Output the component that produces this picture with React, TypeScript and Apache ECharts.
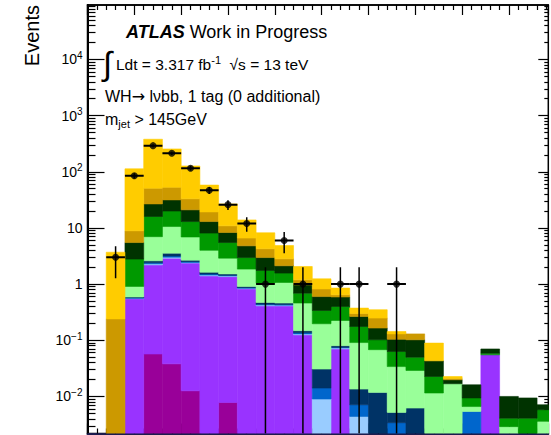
import { useEffect, useRef } from 'react';
import * as echarts from 'echarts';

// Histogram binning (GeV)
const BIN_WIDTH = 20;
const binLow = [0, 20, 40, 60, 80, 100, 120, 140, 160, 180, 200, 220, 240, 260, 280, 300, 320, 340, 360, 380, 400, 420, 440, 460, 480];
const X_MAX = 492;

// Vertical range in log10(Events)
const Y_MIN = -2.66;
const Y_MAX = 4.97;

// Observed events per bin
const observed = [0, 3, 85, 292, 214, 116, 47, 26, 12, 1, 6, 1, 0, 1, 1, 0, 1, 0, 0, 0, 0, 0, 0, 0, 0];

// Background predictions per bin, listed from the bottom of the stack upwards
const diboson = [0, 0, 0, 0.057, 0.038, 0.0126, 0, 0.0078, 0, 0, 0, 0, 0, 0, 0, 0, 0, 0, 0, 0, 0, 0, 0, 0, 0];
const multijet = [0, 0, 0.55, 2.14, 2.86, 2.36, 1.4, 1.35, 0.825, 0.41, 0.41, 0.125, 0, 0.07, 0, 0, 0, 0, 0, 0, 0, 0.055, 0, 0, 0];
const zLight = [0, 0, 0.01, 0.1, 0.12, 0.06, 0.05, 0.04, 0.02, 0.015, 0.012, 0.005, 0.009, 0.003, 0.0044, 0, 0, 0, 0, 0, 0, 0, 0, 0, 0];
const zCharm = [0, 0, 0.01, 0.1, 0.14, 0.08, 0.06, 0.04, 0.02, 0.015, 0.013, 0.006, 0.0051, 0.002, 0.0027, 0, 0.0034, 0, 0, 0, 0.0054, 0, 0, 0, 0];
const zBottom = [0, 0, 0.02, 0.2, 0.4, 0.16, 0.12, 0.08, 0.041, 0.03, 0.025, 0.012, 0.0166, 0.005, 0.0064, 0.0118, 0.0018, 0.0062, 0, 0, 0, 0, 0, 0, 0];
const wLight = [0, 0, 0.32, 4.4, 7.04, 4.23, 2.37, 1.38, 0.944, 0.57, 0.61, 0.312, 0.166, 0.145, 0.0775, 0.0562, 0.0288, 0.0228, 0.0115, 0.0168, 0.0012, 0, 0.0029, 0, 0.0036];
const wCharm = [0, 0, 1.88, 9, 9.4, 6.1, 4.1, 2.6, 1.12, 0.71, 0.5, 0.23, 0.143, 0.175, 0.085, 0.034, 0.029, 0.021, 0.0112, 0, 0.0028, 0.004, 0.0012, 0.0041, 0.0022];
const wBottom = [0, 0, 2.71, 10.8, 11.6, 8, 4.9, 2.8, 1.83, 1.22, 0.55, 0.28, 0.26, 0.19, 0.089, 0.063, 0.041, 0.052, 0.0203, 0.003, 0.0067, 0.011, 0.0059, 0.0053, 0.0013];
const singleTop = [0, 0.24, 3.4, 24.2, 21.4, 12, 6.3, 2.6, 1.8, 1.28, 0.7, 0.22, 0.22, 0.055, 0.035, 0.083, 0.026, 0.028, 0, 0.001, 0, 0, 0, 0, 0];
const ttbar = [0, 3.46, 104, 329, 202, 94, 38.7, 15.9, 7.3, 3.95, 2.04, 0.87, 0.42, 0.205, 0.074, 0.102, 0.013, 0, 0.046, 0.0018, 0, 0, 0, 0, 0];

const stackOrder = [
  { name: 'diboson', values: diboson, color: '#990099' },
  { name: 'multijet', values: multijet, color: '#9933ff' },
  { name: 'Z+l', values: zLight, color: '#99ccff' },
  { name: 'Z+c', values: zCharm, color: '#0066cc' },
  { name: 'Z+b', values: zBottom, color: '#003366' },
  { name: 'W+l', values: wLight, color: '#99ff99' },
  { name: 'W+c', values: wCharm, color: '#009900' },
  { name: 'W+b', values: wBottom, color: '#003300' },
  { name: 'single top', values: singleTop, color: '#cc9900' },
  { name: 'ttbar', values: ttbar, color: '#ffcc00' },
];

// Axis decorations (log10 positions)
const decades = [-3, -2, -1, 0, 1, 2, 3, 4];
const minorMultipliers = [2, 3, 4, 5, 6, 7, 8, 9];

const FONT = '"Liberation Sans", Arial, Helvetica, sans-serif';

const majorLogTicks = decades.filter((d) => d >= Y_MIN && d <= Y_MAX);
const minorLogTicks: number[] = [];
decades.forEach((d) => {
  minorMultipliers.forEach((m) => {
    const v = d + Math.log10(m);
    if (v > Y_MIN && v < Y_MAX) minorLogTicks.push(v);
  });
});

const toLog = (v: number) => (v > 0 ? Math.max(Math.log10(v), Y_MIN) : Y_MIN);

function buildStackSeries() {
  const cumulative = binLow.map(() => 0);
  return stackOrder.map((comp, ci) => {
    const data: number[][] = [];
    binLow.forEach((lo, i) => {
      const below = cumulative[i];
      cumulative[i] += comp.values[i];
      const top = cumulative[i];
      if (comp.values[i] > 0 && top > Math.pow(10, Y_MIN)) {
        data.push([lo, lo + BIN_WIDTH, toLog(below), Math.min(Math.log10(top), Y_MAX)]);
      }
    });
    return {
      type: 'custom',
      name: comp.name,
      data,
      encode: { x: [0, 1], y: [2, 3] },
      clip: true,
      z: 2 + ci * 0.01,
      renderItem: (_params: any, api: any) => {
        const p0 = api.coord([api.value(0), api.value(2)]);
        const p1 = api.coord([api.value(1), api.value(3)]);
        return {
          type: 'rect',
          shape: { x: p0[0], y: p1[1], width: p1[0] - p0[0], height: p0[1] - p1[1] },
          style: { fill: comp.color, stroke: comp.color, lineWidth: 0.6 },
        };
      },
    };
  });
}

const dataPoints = binLow
  .map((lo, i) => [lo + BIN_WIDTH / 2, observed[i]])
  .filter((d) => d[1] > 0);

function supLabel(v: number) {
  const d = Math.round(v);
  if (d === 0) return '{b|1}';
  if (d === 1) return '{b|10}';
  return `{b|10}{s|${d < 0 ? '\u2212' + -d : d}}`;
}

const tickStyle = { color: '#000', width: 1.2 };

export default function App() {
  const ref = useRef<HTMLDivElement>(null);

  useEffect(() => {
    if (!ref.current) return;
    const chart = echarts.init(ref.current, null, { renderer: 'svg' });

    const xBase = {
      type: 'value',
      min: 0,
      max: X_MAX,
      interval: 50,
      splitLine: { show: false },
      axisLabel: { show: false },
      minorSplitLine: { show: false },
    };

    const yBase = {
      type: 'value',
      min: Y_MIN,
      max: Y_MAX,
      offset: 0,
      splitLine: { show: false },
      axisLine: { show: false, onZero: false },
      axisLabel: { show: false },
    };

    chart.setOption({
      animation: false,
      backgroundColor: '#ffffff',
      grid: {
        left: 87.5,
        right: 2.7,
        top: 5,
        bottom: 1.5,
        show: true,
        borderColor: '#000',
        borderWidth: 1.5,
        backgroundColor: 'transparent',
        containLabel: false,
        outerBoundsMode: 'none',
      },
      xAxis: [
        {
          ...xBase,
          position: 'bottom',
          axisLine: { show: true, onZero: false, lineStyle: { color: '#1c1c4e', width: 2 } },
          axisTick: { show: true, inside: true, length: 10, lineStyle: tickStyle },
          minorTick: { show: true, splitNumber: 5, length: 5, lineStyle: tickStyle },
        },
        {
          ...xBase,
          position: 'top',
          axisLine: { show: true, onZero: false, lineStyle: { color: '#000', width: 1.5 } },
          axisTick: { show: true, inside: true, length: 10, lineStyle: tickStyle },
          minorTick: { show: true, splitNumber: 5, length: 5, lineStyle: tickStyle },
        },
      ],
      yAxis: [
        {
          ...yBase,
          position: 'left',
          axisLine: { show: true, onZero: false, lineStyle: { color: '#000', width: 2 } },
          axisTick: { show: true, inside: true, length: 17, customValues: majorLogTicks, lineStyle: tickStyle },
          axisLabel: {
            show: true,
            customValues: majorLogTicks,
            margin: 5,
            formatter: (v: number) => supLabel(v),
            rich: {
              b: { fontSize: 14, fontFamily: FONT, color: '#000' },
              s: { fontSize: 10, fontFamily: FONT, color: '#000', padding: [0, 0, 8, 0] },
            },
          },
        },
        {
          ...yBase,
          position: 'left',
          axisTick: { show: true, inside: true, length: 8, customValues: minorLogTicks, lineStyle: tickStyle },
        },
        {
          ...yBase,
          position: 'right',
          axisTick: { show: true, inside: true, length: 10, customValues: majorLogTicks, lineStyle: tickStyle },
        },
        {
          ...yBase,
          position: 'right',
          axisTick: { show: true, inside: true, length: 4, customValues: minorLogTicks, lineStyle: tickStyle },
        },
      ],
      series: [
        ...buildStackSeries(),
        {
          type: 'custom',
          name: 'data errors',
          data: binLow.map((lo, i) => [lo, lo + BIN_WIDTH, observed[i]]).filter((d) => d[2] > 0),
          encode: { x: [0, 1], y: 2 },
          clip: true,
          z: 10,
          renderItem: (_params: any, api: any) => {
            const lo = api.value(0);
            const hi = api.value(1);
            const n = api.value(2);
            const err = Math.sqrt(n);
            const mid = (lo + hi) / 2;
            const yc = Math.log10(n);
            const left = api.coord([lo, yc]);
            const right = api.coord([hi, yc]);
            const up = api.coord([mid, Math.min(Math.log10(n + err), Y_MAX)]);
            const down = api.coord([mid, toLog(n - err)]);
            return {
              type: 'group',
              children: [
                { type: 'line', shape: { x1: left[0], y1: left[1], x2: right[0], y2: right[1] }, style: { stroke: '#000', lineWidth: 2 } },
                { type: 'line', shape: { x1: up[0], y1: up[1], x2: down[0], y2: down[1] }, style: { stroke: '#000', lineWidth: 1.5 } },
              ],
            };
          },
        },
        {
          type: 'scatter',
          name: 'data',
          data: dataPoints.map((d) => [d[0], Math.log10(d[1])]),
          symbol: 'circle',
          symbolSize: 7,
          itemStyle: { color: '#000' },
          z: 11,
          clip: true,
        },
      ],
      graphic: [
        {
          type: 'text',
          x: 32,
          y: 5,
          rotation: Math.PI / 2,
          style: { text: 'Events', fontSize: 20, fontFamily: FONT, fill: '#000', align: 'right', verticalAlign: 'middle' },
        },
        {
          type: 'text',
          x: 126,
          y: 32,
          style: {
            text: '{a|ATLAS} {w|Work in Progress}',
            fontSize: 18,
            fontFamily: FONT,
            verticalAlign: 'middle',
            rich: {
              a: { fontSize: 18, fontFamily: FONT, fontWeight: 'bold', fontStyle: 'italic', fill: '#000' },
              w: { fontSize: 18, fontFamily: FONT, fill: '#000' },
            },
          },
        },
        {
          type: 'text',
          x: 103,
          y: 63,
          style: { text: '\u222B', fontSize: 33, fontFamily: FONT, fill: '#000', verticalAlign: 'middle' },
        },
        {
          type: 'text',
          x: 116,
          y: 64,
          style: {
            text: '{n|Ldt = 3.317 fb}{s|-1}{n|  \u221As = 13 teV}',
            fontSize: 15.5,
            fontFamily: FONT,
            verticalAlign: 'middle',
            rich: {
              n: { fontSize: 15.5, fontFamily: FONT, fill: '#000' },
              s: { fontSize: 11, fontFamily: FONT, fill: '#000', padding: [0, 0, 9, 0] },
            },
          },
        },
        {
          type: 'text',
          x: 105,
          y: 96,
          style: {
            text: '{n|WH}{r|\u2192}{n| l\u03BDbb, 1 tag (0 additional)}',
            fontSize: 16,
            fontFamily: FONT,
            verticalAlign: 'middle',
            rich: {
              n: { fontSize: 16, fontFamily: FONT, fill: '#000' },
              r: { fontSize: 16, fontFamily: '"DejaVu Sans", sans-serif', fill: '#000' },
            },
          },
        },
        {
          type: 'text',
          x: 105,
          y: 119,
          style: {
            text: '{n|m}{j|jet}{n| > 145GeV}',
            fontSize: 16,
            fontFamily: FONT,
            verticalAlign: 'middle',
            rich: {
              n: { fontSize: 16, fontFamily: FONT, fill: '#000' },
              j: { fontSize: 11, fontFamily: FONT, fill: '#000', padding: [9, 0, 0, 0] },
            },
          },
        },
      ],
    });

    return () => chart.dispose();
  }, []);

  return (
    <div
      ref={ref}
      style={{ position: 'fixed', left: 0, top: 0, width: 551, height: 435, background: '#fff' }}
    />
  );
}
